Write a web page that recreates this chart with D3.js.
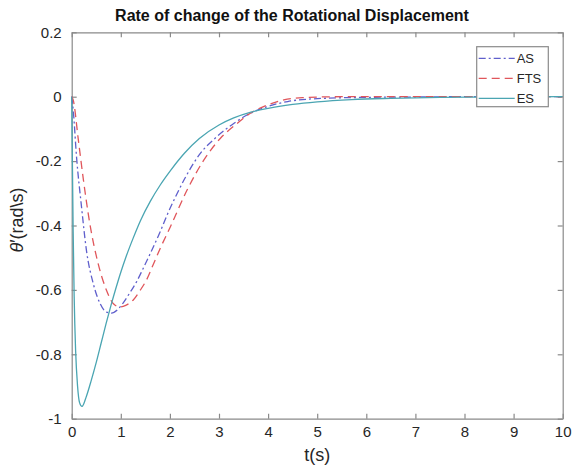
<!DOCTYPE html>
<html lang="en">
	<head>
		<meta charset="utf-8">
		<title>Rate of change of the Rotational Displacement</title>
		<script type="text/javascript" src="https://cdn.jsdelivr.net/npm/d3@7"></script>
		<style type="text/css">
			body { margin: 0; background: #fff; }
			svg { display: block; }
		</style>
	</head>
	<body>
		<script type="text/javascript">

			//Width and height
			var w = 574;
			var h = 466;
			var margin = { top: 32.3, right: 11.3, bottom: 47.3, left: 71.7 };

			//Data: time (s) and theta' (rad/s)
			var asTime  = [0, 0.03, 0.1, 0.2, 0.3, 0.44, 0.58, 0.71, 0.81, 0.93, 1.05, 1.2, 1.32, 1.45, 1.6, 1.8, 1.95, 2.15, 2.3, 2.6, 2.95, 3.3, 3.57, 4.0, 4.4, 5.0, 6.0, 7.0, 8.0, 10];
			var asValue = [0, -0.04, -0.19, -0.342, -0.477, -0.581, -0.643, -0.669, -0.672, -0.662, -0.64, -0.605, -0.575, -0.535, -0.487, -0.42, -0.365, -0.3, -0.255, -0.18, -0.125, -0.083, -0.057, -0.03, -0.015, -0.006, -0.002, -0.001, 0, 0];

			var ftsTime  = [0, 0.03, 0.136, 0.24, 0.37, 0.54, 0.71, 0.85, 0.98, 1.1, 1.25, 1.4, 1.52, 1.67, 1.8, 2.01, 2.35, 2.69, 3.03, 3.37, 3.6, 3.98, 4.32, 4.7, 5.5, 10];
			var ftsValue = [0, -0.01, -0.135, -0.26, -0.395, -0.519, -0.602, -0.643, -0.653, -0.648, -0.632, -0.6, -0.57, -0.518, -0.472, -0.404, -0.29, -0.197, -0.129, -0.083, -0.055, -0.026, -0.01, -0.003, 0, 0];

			var esTime  = [0, 0.01, 0.03, 0.05, 0.08, 0.12, 0.16, 0.21, 0.3, 0.4, 0.5, 0.6, 0.7, 0.8, 0.9, 1.0, 1.1, 1.25, 1.4, 1.6, 1.8, 2.0, 2.3, 2.6, 3.0, 3.3, 3.65, 4.0, 4.5, 5.0, 5.7, 6.5, 7.5, 8.5, 10];
			var esValue = [0, -0.15, -0.42, -0.62, -0.79, -0.9, -0.95, -0.962, -0.93, -0.88, -0.825, -0.765, -0.705, -0.648, -0.595, -0.545, -0.5, -0.44, -0.385, -0.325, -0.275, -0.232, -0.175, -0.13, -0.088, -0.066, -0.048, -0.036, -0.024, -0.016, -0.009, -0.005, -0.002, -0.001, 0];

			var seriesNames = ["AS", "FTS", "ES"];
			var xTicks = [0, 1, 2, 3, 4, 5, 6, 7, 8, 9, 10];
			var yTicks = [-1, -0.8, -0.6, -0.4, -0.2, 0, 0.2];

			var series = [
				{ name: "AS",  t: asTime,  v: asValue,  color: "#5f5fcc", dash: "7,3,2,3" },
				{ name: "FTS", t: ftsTime, v: ftsValue, color: "#e0565b", dash: "8,5" },
				{ name: "ES",  t: esTime,  v: esValue,  color: "#4aa5b2", dash: null }
			];

			var xScale = d3.scaleLinear()
							.domain([0, 10])
							.range([margin.left, w - margin.right]);

			var yScale = d3.scaleLinear()
							.domain([-1, 0.2])
							.range([h - margin.bottom, margin.top]);

			//Create SVG element
			var svg = d3.select("body")
						.append("svg")
						.attr("width", w)
						.attr("height", h);

			var fontFamily = "Arial, 'Liberation Sans', Helvetica, sans-serif";
			var axisColor = "#8a8a8a";
			var labelColor = "#262626";

			//Axes, MATLAB style (ticks inward on all four sides)
			var xAxisB = d3.axisBottom(xScale).tickValues(xTicks).tickSizeInner(-5).tickSizeOuter(0).tickPadding(8);
			var xAxisT = d3.axisTop(xScale).tickValues(xTicks).tickSizeInner(-5).tickSizeOuter(0).tickFormat("");
			var yAxisL = d3.axisLeft(yScale).tickValues(yTicks).tickSizeInner(-5).tickSizeOuter(0).tickPadding(10)
							.tickFormat(function(d) { return d3.format("")(+d.toFixed(1)).replace("\u2212", "-"); });
			var yAxisR = d3.axisRight(yScale).tickValues(yTicks).tickSizeInner(-5).tickSizeOuter(0).tickFormat("");

			var gx = svg.append("g").attr("transform", "translate(0," + (h - margin.bottom) + ")").call(xAxisB);
			svg.append("g").attr("transform", "translate(0," + margin.top + ")").call(xAxisT);
			var gy = svg.append("g").attr("transform", "translate(" + margin.left + ",0)").call(yAxisL);
			svg.append("g").attr("transform", "translate(" + (w - margin.right) + ",0)").call(yAxisR);

			svg.selectAll(".domain, .tick line")
			   .attr("stroke", axisColor)
			   .attr("stroke-width", 1.2);

			svg.selectAll(".tick text")
			   .attr("font-family", fontFamily)
			   .attr("font-size", "15px")
			   .attr("fill", labelColor);

			//Curves
			var line = d3.line()
						 .x(function(d) { return xScale(d[0]); })
						 .y(function(d) { return yScale(d[1]); })
						 .curve(d3.curveMonotoneX);

			svg.append("g")
			   .selectAll("path")
			   .data(series)
			   .enter()
			   .append("path")
			   .attr("d", function(s) { return line(d3.zip(s.t, s.v)); })
			   .attr("fill", "none")
			   .attr("stroke", function(s) { return s.color; })
			   .attr("stroke-width", 1.3)
			   .attr("stroke-dasharray", function(s) { return s.dash; });

			//Title
			svg.append("text")
			   .text("Rate of change of the Rotational Displacement")
			   .attr("x", 292)
			   .attr("y", 21)
			   .attr("text-anchor", "middle")
			   .attr("font-family", fontFamily)
			   .attr("font-weight", "bold")
			   .attr("font-size", "16px")
			   .attr("fill", "#111");

			//Axis labels
			svg.append("text")
			   .text("t(s)")
			   .attr("x", (margin.left + w - margin.right) / 2)
			   .attr("y", 461)
			   .attr("text-anchor", "middle")
			   .attr("font-family", fontFamily)
			   .attr("font-size", "18px")
			   .attr("fill", labelColor);

			var ylab = svg.append("text")
			   .attr("transform", "translate(23," + 220 + ") rotate(-90)")
			   .attr("text-anchor", "middle")
			   .attr("font-family", fontFamily)
			   .attr("font-size", "18px")
			   .attr("fill", labelColor);
			ylab.append("tspan").attr("font-style", "italic").text("\u03b8");
			ylab.append("tspan").text("\u2032(rad\\s)");

			//Legend
			var legend = svg.append("g").attr("transform", "translate(476.7,46.7)");
			legend.append("rect")
				  .attr("width", 71.6)
				  .attr("height", 60)
				  .attr("fill", "#fff")
				  .attr("stroke", axisColor)
				  .attr("stroke-width", 1.2);

			var items = legend.selectAll("g.item")
							  .data(series)
							  .enter()
							  .append("g")
							  .attr("class", "item")
							  .attr("transform", function(d, i) { return "translate(0," + (11.6 + i * 20) + ")"; });

			items.append("line")
				 .attr("x1", 2)
				 .attr("x2", 38)
				 .attr("stroke", function(d) { return d.color; })
				 .attr("stroke-width", 1.3)
				 .attr("stroke-dasharray", function(d) { return d.dash; });

			items.append("text")
				 .text(function(d, i) { return seriesNames[i]; })
				 .attr("x", 40)
				 .attr("y", 4.6)
				 .attr("font-family", fontFamily)
				 .attr("font-size", "13px")
				 .attr("fill", labelColor);

		</script>
	</body>
</html>
